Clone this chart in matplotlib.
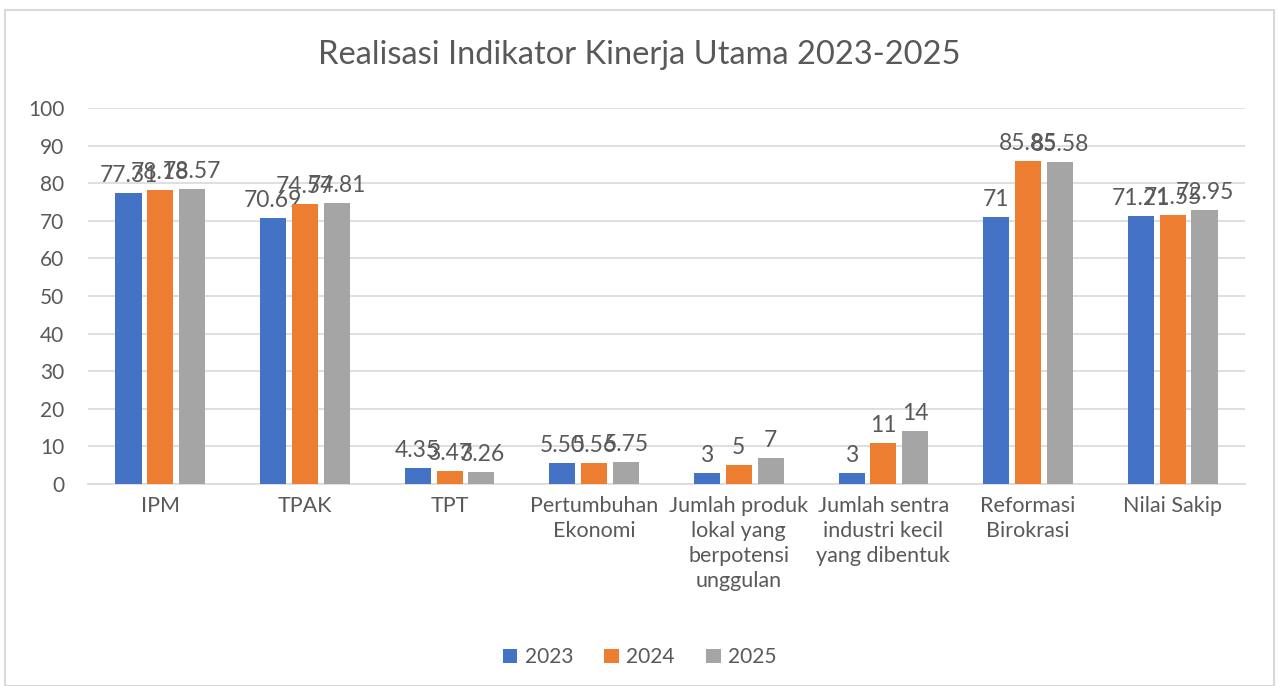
import numpy as np
import matplotlib.pyplot as plt
from matplotlib.patches import Rectangle

# data
kategori = ['IPM', 'TPAK', 'TPT', 'Pertumbuhan\nEkonomi',
            'Jumlah produk\nlokal yang\nberpotensi\nunggulan',
            'Jumlah sentra\nindustri kecil\nyang dibentuk',
            'Reformasi\nBirokrasi', 'Nilai Sakip']
tahun = ['2023', '2024', '2025']
v2023 = [77.31, 70.69, 4.35, 5.50, 3, 3, 71, 71.21]
v2024 = [78.18, 74.57, 3.47, 5.56, 5, 11, 85.85, 71.55]
v2025 = [78.57, 74.81, 3.26, 5.75, 7, 14, 85.58, 72.95]
label2023 = ['77.31', '70.69', '4.35', '5.50', '3', '3', '71', '71.21']
label2024 = ['78.18', '74.57', '3.47', '5.56', '5', '11', '85.85', '71.55']
label2025 = ['78.57', '74.81', '3.26', '5.75', '7', '14', '85.58', '72.95']

warna = ['#4472C4', '#ED7D31', '#A5A5A5']
teks = '#595959'
plt.rcParams['font.family'] = ['Lato', 'DejaVu Sans']

fig = plt.figure(figsize=(12.79, 6.86), dpi=100)
fig.patches.append(Rectangle((0.004, 0.0), 0.992, 0.985, transform=fig.transFigure,
                             fill=False, edgecolor='#D9D9D9', linewidth=1.5))
ax = fig.add_axes([0.0688, 0.2945, 0.9046, 0.5481])

x = np.arange(len(kategori))
lebar = 0.18
langkah = 0.22
semua = [(v2023, label2023), (v2024, label2024), (v2025, label2025)]
for i, (vals, labs) in enumerate(semua):
    pos = x + (i - 1) * langkah
    bars = ax.bar(pos, vals, width=lebar, color=warna[i], label=tahun[i], zorder=3)
    ax.bar_label(bars, labels=labs, padding=5, fontsize=16.5, color=teks)

ax.set_xlim(-0.5, len(kategori) - 0.5)
ax.set_ylim(0, 100)
ax.set_yticks(range(0, 101, 10))
ax.grid(axis='y', color='#D9D9D9', linewidth=1.2, zorder=0)
for s in ['top', 'right', 'left']:
    ax.spines[s].set_visible(False)
ax.spines['bottom'].set_color('#D9D9D9')
ax.spines['bottom'].set_linewidth(1.2)
ax.tick_params(axis='y', length=0, labelsize=15, colors=teks, pad=17)
ax.tick_params(axis='x', length=0, labelsize=15.5, colors=teks, pad=9)
ax.set_xticks(x)
ax.set_xticklabels(kategori, linespacing=1.3, va='top')

fig.text(0.5, 0.92, 'Realisasi Indikator Kinerja Utama 2023-2025', ha='center',
         va='center', fontsize=23.5, color=teks)
fig.legend(loc='center', bbox_to_anchor=(0.5, 0.042), ncol=3, frameon=False,
           fontsize=15, labelcolor=teks, handlelength=0.7, handleheight=0.7,
           handletextpad=0.35, columnspacing=1.5)

fig.savefig('out.png', dpi=100, facecolor='white')
